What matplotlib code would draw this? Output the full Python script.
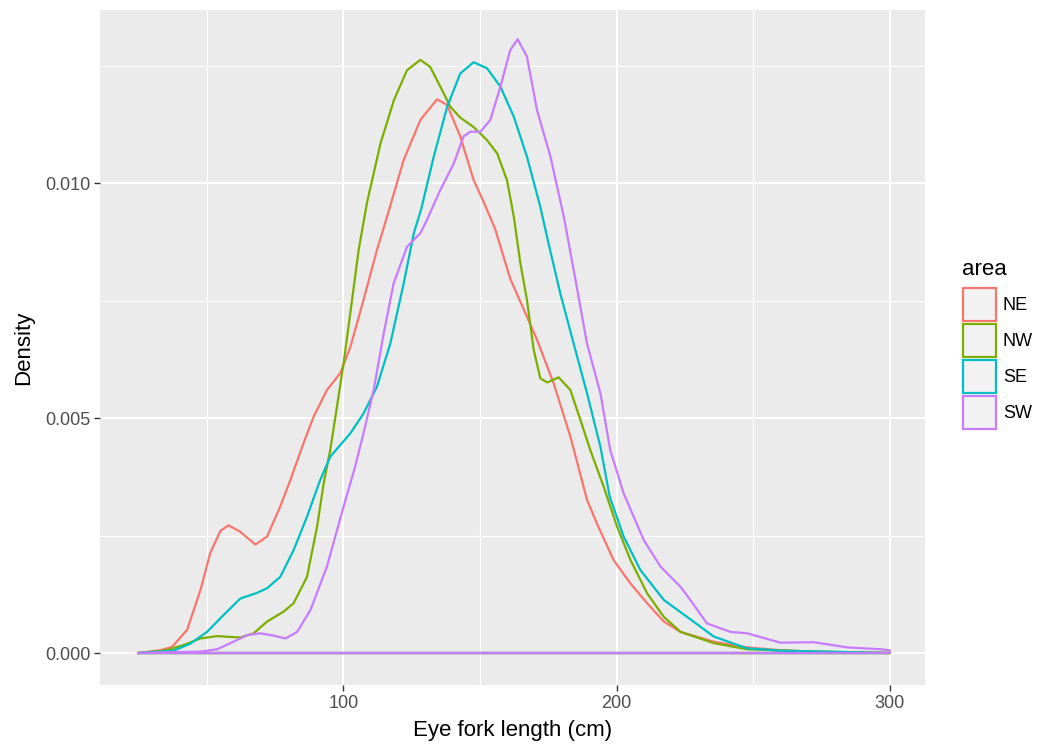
import matplotlib
matplotlib.use("Agg")
import matplotlib.pyplot as plt
from matplotlib.patches import Rectangle

plt.rcParams['font.family'] = ['Liberation Sans', 'DejaVu Sans']

# valores (x en cm, densidad)
areas = ['NE', 'NW', 'SE', 'SW']
colores = ['#F8766D', '#7CAE00', '#00BFC4', '#C77CFF']

ne_x = [25, 33, 37.3, 42.8, 47.7, 51.3, 55, 58, 62.3, 67.8, 72.1, 76.9, 80.6, 85, 89.1, 94, 98.9,
        102.6, 107.4, 112.3, 116, 122.1, 128.2, 134.3, 138, 142.8, 147.7, 151.4, 155.5, 161.1,
        164.8, 170.9, 177, 183.1, 189.2, 192.8, 198.9, 205.1, 211.2, 217.3, 223.4, 235.6, 247.8,
        260, 272, 300]
ne_y = [0, 0.00006, 0.00013, 0.00049, 0.00134, 0.00213, 0.0026, 0.00272, 0.00258, 0.00231, 0.00248,
        0.00312, 0.00368, 0.0044, 0.00503, 0.0056, 0.00596, 0.00652, 0.00752, 0.00858, 0.00929,
        0.0105, 0.01135, 0.01179, 0.01167, 0.011, 0.01007, 0.0096, 0.00904, 0.00797, 0.00748,
        0.00667, 0.00574, 0.00461, 0.00326, 0.00276, 0.00198, 0.00148, 0.00106, 0.00067, 0.00045,
        0.00024, 0.00012, 0.00006, 0.00003, 0]

nw_x = [25, 35.4, 41.5, 47.7, 53.8, 62.3, 67.2, 72.1, 78.1, 81.8, 86.7, 90.4, 92.8, 95.2, 97.1,
        100.1, 103.2, 105.6, 108.7, 113.6, 118.5, 123.3, 128.2, 131.8, 135.5, 139.2, 142.8, 147.7,
        152.6, 156.3, 159.9, 162.4, 164.8, 167.2, 169.7, 172.1, 174.6, 178.8, 183.1, 186.8, 190.4,
        195.3, 200.2, 205.1, 211.2, 217.3, 223.4, 235.6, 247.8, 272, 300]
nw_y = [0, 0.00006, 0.00017, 0.00031, 0.00036, 0.00033, 0.00042, 0.00067, 0.00088, 0.00106, 0.00162,
        0.00269, 0.00361, 0.00432, 0.00503, 0.00617, 0.00752, 0.00858, 0.0096, 0.01085, 0.01177,
        0.01241, 0.01263, 0.01248, 0.01206, 0.01163, 0.0114, 0.0112, 0.01092, 0.01064, 0.01007,
        0.00929, 0.0083, 0.00752, 0.00645, 0.00585, 0.00576, 0.00587, 0.0056, 0.00496, 0.00432,
        0.00354, 0.00269, 0.00198, 0.00127, 0.00077, 0.00045, 0.00021, 0.00008, 0.00003, 0]

se_x = [25, 37.9, 44, 50.1, 56.2, 62.3, 68.4, 72.1, 76.9, 81.8, 86.7, 91.3, 95.2, 102.6, 107.4,
        112.3, 117.2, 122.1, 125.8, 128.5, 133.1, 138, 142.8, 147.7, 152.6, 157.5, 162.4, 167.2,
        172.1, 175.2, 179.4, 184.3, 189.2, 194.1, 197.5, 202.6, 208.7, 217.3, 225.8, 235.6, 247.8,
        260, 300]
se_y = [0, 0.00005, 0.0002, 0.00045, 0.00081, 0.00116, 0.00128, 0.00138, 0.00162, 0.00219, 0.0029,
        0.00365, 0.00418, 0.00468, 0.0051, 0.00567, 0.00659, 0.00787, 0.00894, 0.00945, 0.01057,
        0.01163, 0.01234, 0.01258, 0.01245, 0.01206, 0.01142, 0.01057, 0.0095, 0.0087, 0.00766,
        0.00659, 0.00553, 0.00439, 0.00333, 0.00248, 0.00177, 0.00113, 0.00077, 0.00035, 0.0001,
        0.00005, 0]

sw_x = [25, 47.7, 53.8, 59.8, 64.7, 69.6, 74.5, 78.8, 83.1, 88, 94, 100.1, 104, 107.4, 111.1,
        114.8, 118.4, 123.3, 128.2, 130.6, 133.1, 135.5, 140.4, 144, 146.5, 150.2, 153.8, 157.5,
        161.1, 163.8, 167.2, 170.9, 175.8, 180.7, 184.3, 189.2, 194.1, 197.7, 202.6, 206.3, 210,
        216.1, 223.4, 227, 233.1, 241.7, 247.8, 260, 272.2, 284.4, 296.6, 300, 300]
sw_y = [0, 0.00003, 0.00008, 0.00024, 0.00038, 0.00042, 0.00037, 0.00031, 0.00045, 0.00092, 0.00184,
        0.00312, 0.0039, 0.00468, 0.0056, 0.00681, 0.00787, 0.00865, 0.00894, 0.00922, 0.00955,
        0.00986, 0.01042, 0.011, 0.0111, 0.0111, 0.01135, 0.01206, 0.01284, 0.01307, 0.0127,
        0.01156, 0.01057, 0.00929, 0.00816, 0.00659, 0.00553, 0.00432, 0.0034, 0.0029, 0.0024,
        0.00184, 0.00141, 0.00113, 0.00063, 0.00045, 0.00042, 0.00022, 0.00023, 0.00012, 0.00008,
        0.00006, 0]

series_x = [ne_x, nw_x, se_x, sw_x]
series_y = [ne_y, nw_y, se_y, sw_y]

fig = plt.figure(figsize=(10.4, 7.45), dpi=100)
ax = fig.add_axes([100 / 1040, 1 - 685 / 745, 825 / 1040, 675 / 745])
ax.set_facecolor('#EBEBEB')

# rejilla estilo ggplot
for v in [50, 150, 250]:
    ax.axvline(v, color='white', lw=0.8, zorder=0)
for v in [100, 200, 300]:
    ax.axvline(v, color='white', lw=1.5, zorder=0)
for v in [0.0025, 0.0075, 0.0125]:
    ax.axhline(v, color='white', lw=0.8, zorder=0)
for v in [0, 0.005, 0.010]:
    ax.axhline(v, color='white', lw=1.5, zorder=0)

# curvas de densidad (contorno cerrado, como geom_density)
for xs, ys, c in zip(series_x, series_y, colores):
    ax.plot(xs + [xs[0]], ys + [0], color=c, lw=1.6, zorder=2)

ax.set_xlim(10.94, 312.9)
ax.set_ylim(-0.000681, 0.013692)
ax.set_xticks([100, 200, 300])
ax.set_xticklabels(['100', '200', '300'])
ax.set_yticks([0, 0.005, 0.010])
ax.set_yticklabels(['0.000', '0.005', '0.010'])
ax.tick_params(colors='#333333', labelcolor='#4D4D4D', labelsize=13, length=4, width=1, pad=3)
for s in ax.spines.values():
    s.set_visible(False)

ax.set_xlabel('Eye fork length (cm)', fontsize=16, labelpad=6)
ax.set_ylabel('Density', fontsize=16, labelpad=8)

# leyenda manual
fig.text(962 / 1040, 1 - 270 / 745, 'area', fontsize=16, va='center', ha='left')
for i, (nom, c) in enumerate(zip(areas, colores)):
    y0 = 288 + 36 * i
    fig.add_artist(Rectangle((963 / 1040, 1 - (y0 + 33) / 745), 33 / 1040, 33 / 745,
                             transform=fig.transFigure, facecolor='#F2F2F2', edgecolor=c, lw=1.6))
    fig.text(1003 / 1040, 1 - (y0 + 17) / 745, nom, fontsize=13, va='center', ha='left')

fig.savefig('out.png', dpi=100)
plt.close(fig)
